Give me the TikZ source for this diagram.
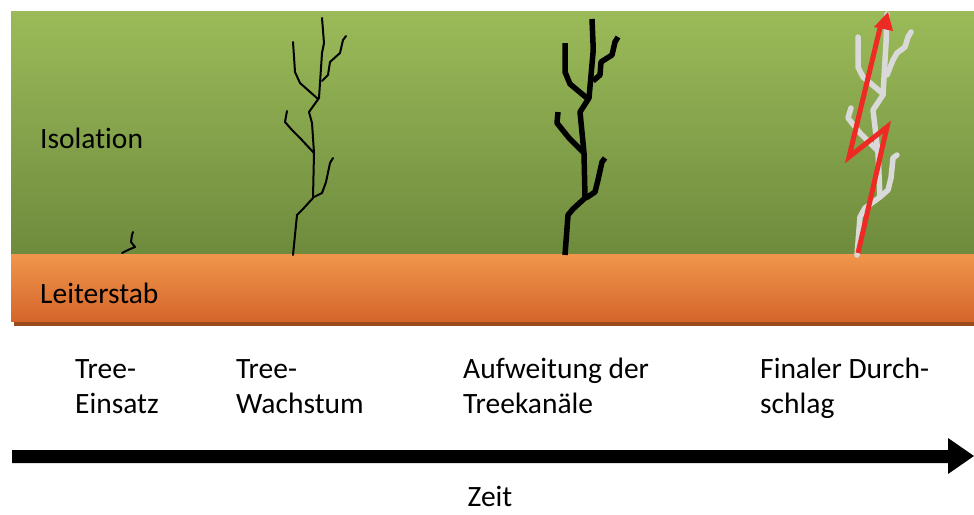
\documentclass[tikz,border=0pt]{standalone}
\usepackage{fontspec}
\setmainfont{Carlito}[Ligatures=NoCommon]
\begin{document}
\begin{tikzpicture}[x=1pt,y=-1pt,
  lbl/.style={anchor=base west,inner sep=0pt,font=\fontsize{29.5}{35}\selectfont},
  thin tree/.style={draw=black,line width=2pt,line cap=round,line join=round},
  thick tree/.style={draw=black,line width=5.5pt,line join=round},
  grey tree/.style={draw=treegrey,line width=5.5pt,line cap=round,line join=round},
  bolt/.style={draw=boltred,line width=5pt,line join=miter}]
\definecolor{greentop}{HTML}{9BBB59}
\definecolor{greenbot}{HTML}{6E8B3D}
\definecolor{orangetop}{HTML}{F0964C}
\definecolor{orangebot}{HTML}{D5652A}
\definecolor{orangeshadow}{HTML}{9B4A1E}
\definecolor{treegrey}{HTML}{D9D9D9}
\definecolor{boltred}{HTML}{EE2A24}
\useasboundingbox (0,0) rectangle (974,514);

% insulation and conductor layers
\shade[top color=greentop,bottom color=greenbot] (11,11) rectangle (974,254);
\fill[orangeshadow] (14,254) rectangle (974,326);
\shade[top color=orangetop,bottom color=orangebot] (11,254) rectangle (974,321);

% initial tree
\draw[thin tree] (122,253) -- (128,250) -- (135,247) -- (131,242) -- (132,235) -- (133,232);

% growing tree
\draw[thin tree] (293,255) -- (297,215) -- (303,209) -- (313,198) -- (314,153)
  -- (312,123) -- (309,112) -- (319,98) -- (322,53) -- (324,43) -- (322,18);
\draw[thin tree] (314,153) -- (300,138) -- (292,130) -- (285,122) -- (287,111);
\draw[thin tree] (318,99) -- (300,83) -- (295,72) -- (293,42);
\draw[thin tree] (322,81) -- (328,75) -- (330,62) -- (340,53) -- (343,40) -- (346,36);
\draw[thin tree] (314,197) -- (322,193) -- (326,182) -- (330,163) -- (333,158);

% widened tree channels
\draw[thick tree] (565,255) -- (568,215) -- (573,209) -- (585,198) -- (584,153)
  -- (580,112) -- (589,98) -- (593,53) -- (593,43) -- (592,19);
\draw[thick tree] (584,153) -- (569,138) -- (557,123) -- (558,112);
\draw[thick tree] (588,99) -- (570,84) -- (565,72) -- (565,43);
\draw[thick tree] (593,81) -- (600,75) -- (601,62) -- (612,55) -- (615,42) -- (618,37);
\draw[thick tree] (586,198) -- (595,192) -- (598,180) -- (602,162) -- (605,158);

% tree before breakdown
\draw[grey tree] (857,255) -- (860,217) -- (865,208) -- (880,197) -- (878,153)
  -- (873,110) -- (883,95) -- (886,43) -- (887,14);
\draw[grey tree] (878,151) -- (860,133) -- (848,118) -- (851,108);
\draw[grey tree] (882,93) -- (863,77) -- (858,67) -- (858,37);
\draw[grey tree] (887,75) -- (893,60) -- (897,53) -- (905,47) -- (908,37) -- (911,32);
\draw[grey tree] (880,197) -- (888,190) -- (891,178) -- (893,158) -- (897,155);

% breakdown path
\draw[bolt] (858,253) -- (887,127) -- (849,157) -- (880,28);
\fill[boltred] (888,12) -- (893,31) -- (874,27) -- cycle;

% labels
\node[lbl] (iso) at (40,148) {Isolation};
\node[lbl] (cond) at (40,303) {Leiterstab};
\node[lbl] (s1a) at (75,378) {Tree-};
\node[lbl] (s1b) at (75,413) {Einsatz};
\node[lbl] (s2a) at (236,378) {Tree-};
\node[lbl] (s2b) at (236,413) {Wachstum};
\node[lbl] (s3a) at (463,378) {Aufweitung der};
\node[lbl] (s3b) at (463,413) {Treekanäle};
\node[lbl] (s4a) at (760,378) {Finaler Durch-};
\node[lbl] (s4b) at (760,413) {schlag};

% time axis
\fill[black] (12,450) -- (948,450) -- (948,438) -- (974,456) -- (948,474) -- (948,463) -- (12,463) -- cycle;
\node[lbl,anchor=base] (time) at (490,506) {Zeit};
\end{tikzpicture}
\end{document}
